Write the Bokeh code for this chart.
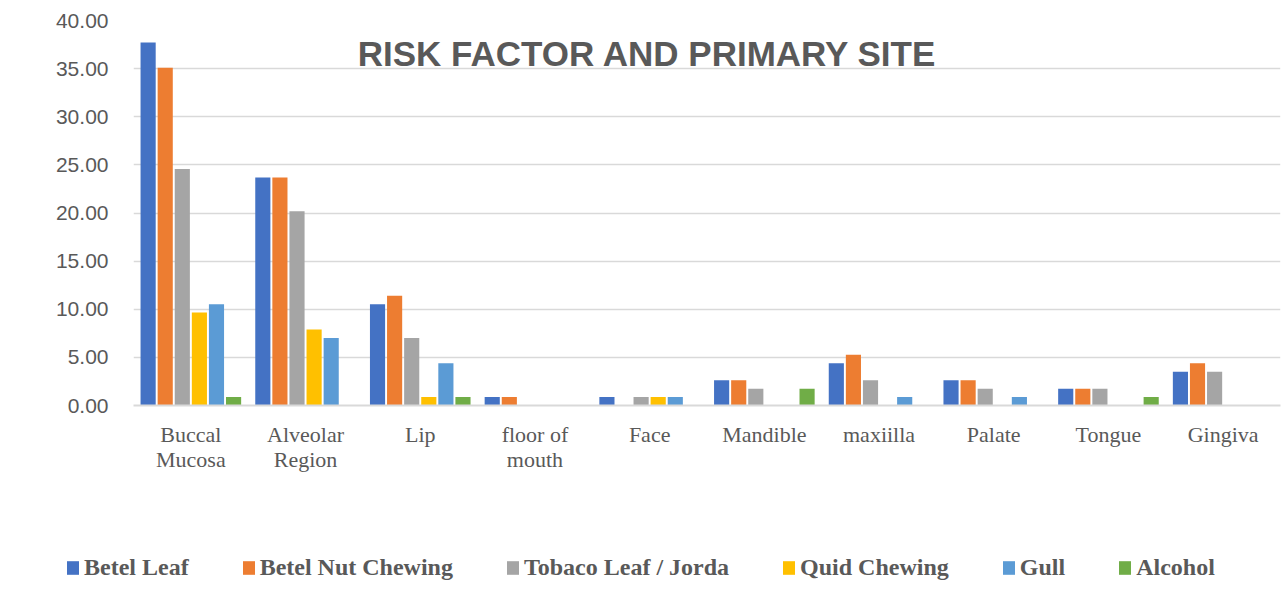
from bokeh.plotting import figure
from bokeh.models import (FactorRange, Range1d, Legend, LegendItem, Label, NumeralTickFormatter,
                          FixedTicker, CategoricalAxis)
from bokeh.transform import dodge
from bokeh.embed import file_html
from bokeh.resources import INLINE

label_line1 = ["Buccal", "Alveolar", "Lip", "floor of", "Face",
               "Mandible", "maxiilla", "Palate", "Tongue", "Gingiva"]
label_line2 = ["Mucosa", "Region", "", "mouth", "", "", "", "", "", ""]
series_names = ["Betel Leaf", "Betel Nut Chewing", "Tobaco Leaf / Jorda", "Quid Chewing", "Gull", "Alcohol"]
betel_leaf = [37.72, 23.68, 10.53, 0.88, 0.88, 2.63, 4.39, 2.63, 1.75, 3.51]
betel_nut = [35.09, 23.68, 11.40, 0.88, 0.00, 2.63, 5.26, 2.63, 1.75, 4.39]
tobacco = [24.56, 20.18, 7.02, 0.00, 0.88, 1.75, 2.63, 1.75, 1.75, 3.51]
quid = [9.65, 7.89, 0.88, 0.00, 0.88, 0.00, 0.00, 0.00, 0.00, 0.00]
gull = [10.53, 7.02, 4.39, 0.00, 0.88, 0.00, 0.88, 0.88, 0.00, 0.00]
alcohol = [0.88, 0.00, 0.88, 0.00, 0.00, 1.75, 0.00, 0.00, 0.88, 0.00]
y_ticks = [0, 5, 10, 15, 20, 25, 30, 35, 40]

series = [betel_leaf, betel_nut, tobacco, quid, gull, alcohol]
colors = ["#4472C4", "#ED7D31", "#A5A5A5", "#FFC000", "#5B9BD5", "#70AD47"]

# second-line factors (blank lines made unique with spaces)
line2_factors = [b if b else " " * (k + 1) for k, b in enumerate(label_line2)]

p = figure(width=1282, height=490, x_range=FactorRange(*label_line1), y_range=Range1d(0, 40),
           output_backend="svg", toolbar_location=None, title=None,
           min_border_left=133, min_border_right=2, min_border_top=20, min_border_bottom=85)
p.outline_line_color = None
p.extra_x_ranges = {"line2": FactorRange(*line2_factors)}

data = {"cat": label_line1}
for i, s in enumerate(series):
    data["s%d" % i] = s

renderers = []
pitch = 0.149
for i in range(6):
    r = p.vbar(x=dodge("cat", (i - 2.5) * pitch, range=p.x_range), top="s%d" % i, width=0.132,
               source=data, fill_color=colors[i], line_color=None)
    renderers.append(r)

p.xgrid.grid_line_color = None
p.ygrid.grid_line_color = "#d9d9d9"
p.ygrid.grid_line_width = 1.5
p.yaxis.ticker = FixedTicker(ticks=y_ticks)
p.yaxis.formatter = NumeralTickFormatter(format="0.00")
p.yaxis.axis_line_color = None
p.yaxis.major_tick_line_color = None
p.yaxis.minor_tick_line_color = None
p.yaxis.major_label_text_font = "Liberation Sans"
p.yaxis.major_label_text_font_size = "21px"
p.yaxis.major_label_text_color = "#595959"
p.yaxis.major_label_standoff = 19

def style_xaxis(ax, standoff):
    ax.major_tick_line_color = None
    ax.minor_tick_line_color = None
    ax.major_tick_out = 0
    ax.major_tick_in = 0
    ax.major_label_text_font = "Liberation Serif"
    ax.major_label_text_font_size = "22px"
    ax.major_label_text_color = "#595959"
    ax.major_label_standoff = standoff

xa = p.xaxis[0]
xa.axis_line_color = "#d9d9d9"
xa.axis_line_width = 2
style_xaxis(xa, 16)

xa2 = CategoricalAxis(x_range_name="line2", axis_line_color=None)
style_xaxis(xa2, -3)
p.add_layout(xa2, "below")

title = Label(x=514, y=352, x_units="screen", y_units="screen", text="RISK FACTOR AND PRIMARY SITE",
              text_font="Liberation Sans", text_font_style="bold", text_font_size="35px",
              text_color="#595959", text_align="center", text_baseline="middle")
p.add_layout(title)

# legend strip below the chart (separate root so its frame starts at the left edge)
p2 = figure(width=1282, height=115, x_range=Range1d(0, 1), y_range=Range1d(0, 1),
            output_backend="svg", toolbar_location=None, title=None,
            x_axis_type=None, y_axis_type=None,
            min_border_left=0, min_border_right=0, min_border_top=0, min_border_bottom=0)
p2.outline_line_color = None
p2.grid.visible = False
legend_renderers = [p2.vbar(x=[0.5], top=[0], bottom=[0], width=0.01, fill_color=c, line_color=None)
                    for c in colors]
legend = Legend(items=[LegendItem(label=n, renderers=[r]) for n, r in zip(series_names, legend_renderers)],
                orientation="horizontal", location=(65, 24), padding=0, margin=0,
                spacing=52, glyph_width=15, glyph_height=17, label_standoff=4,
                label_text_font="Liberation Serif", label_text_font_style="bold",
                label_text_font_size="24px", label_text_color="#595959",
                border_line_color=None, background_fill_alpha=0)
p2.add_layout(legend, "center")

open("out.html", "w").write(file_html([p, p2], INLINE))
